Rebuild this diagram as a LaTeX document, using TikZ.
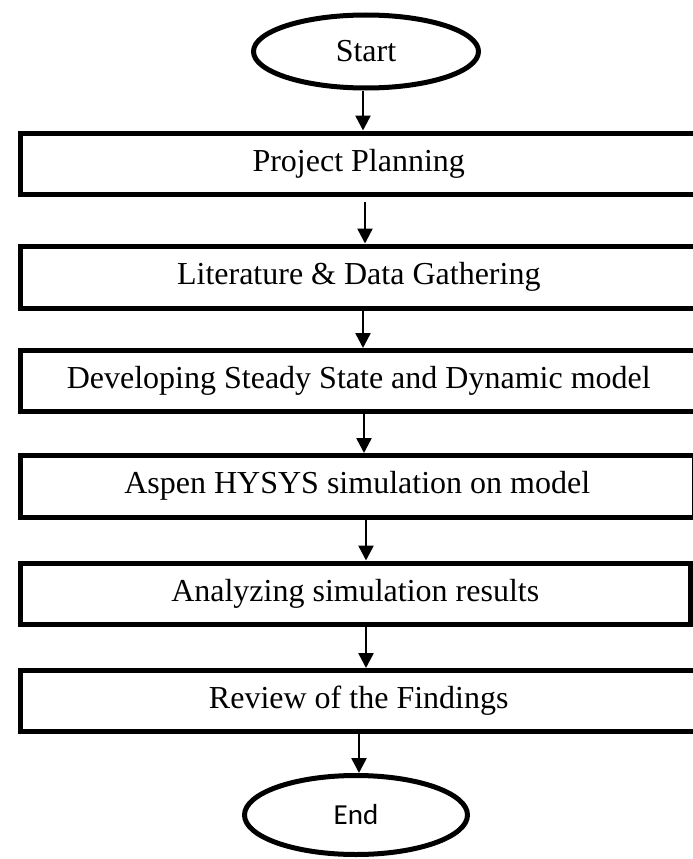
\documentclass[tikz,border=0pt]{standalone}
\usepackage{fontspec}
\setmainfont{Liberation Serif}
\newfontfamily\endfont{Carlito}
\usetikzlibrary{shapes.geometric,arrows.meta}
\begin{document}
\begin{tikzpicture}[x=1pt,y=-1pt,
  stepbox/.style={draw=black,line width=5pt,rectangle,inner sep=0pt,
    font=\fontsize{32}{38}\selectfont},
  term/.style={draw=black,line width=5pt,ellipse,inner sep=0pt},
  arr/.style={draw=black,line width=2.5pt,-{Triangle[width=15pt,length=15pt]}}]
\useasboundingbox (0,0) rectangle (693,859);
\clip (0,0) rectangle (693,859);
\node[term,minimum width=225pt,minimum height=73pt,font=\fontsize{32}{38}\selectfont] (s) at (366,51.5) {Start};
\node[stepbox,minimum width=676.5pt,minimum height=61.5pt] (b1) at (358.75,163.75) {Project Planning};
\node[stepbox,minimum width=676.5pt,minimum height=62pt] (b2) at (358.75,277) {Literature \& Data Gathering};
\node[stepbox,minimum width=676.5pt,minimum height=60.5pt] (b3) at (358.75,380.75) {Developing Steady State and Dynamic model};
\node[stepbox,minimum width=673.5pt,minimum height=61.5pt] (b4) at (357.25,486.25) {Aspen HYSYS simulation on model};
\node[stepbox,minimum width=670pt,minimum height=61.5pt] (b5) at (355.25,593.75) {Analyzing simulation results};
\node[stepbox,minimum width=676.5pt,minimum height=60.5pt] (b6) at (358.75,700.75) {Review of the Findings};
\node[term,minimum width=223pt,minimum height=79pt,font=\endfont\fontsize{29}{35}\selectfont] (e) at (356,815) {End};
\coordinate (a0) at (363,0);
\coordinate (a1) at (365,0);
\coordinate (a2) at (363,0);
\coordinate (a3) at (364,0);
\coordinate (a4) at (366,0);
\coordinate (a5) at (366,0);
\coordinate (a6) at (359,0);
\draw[arr] (s.south -| a0) -- (b1.north -| a0);
\draw[arr,shorten <=5pt] (b1.south -| a1) -- (b2.north -| a1);
\draw[arr] (b2.south -| a2) -- (b3.north -| a2);
\draw[arr] (b3.south -| a3) -- (b4.north -| a3);
\draw[arr] (b4.south -| a4) -- (b5.north -| a4);
\draw[arr] (b5.south -| a5) -- (b6.north -| a5);
\draw[arr] (b6.south -| a6) -- (e.north -| a6);
\end{tikzpicture}
\end{document}
